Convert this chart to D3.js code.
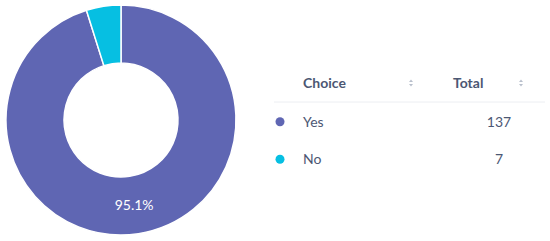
<!DOCTYPE html>
<html>
<head>
<meta charset="utf-8">
<script src="https://cdn.jsdelivr.net/npm/d3@7"></script>
<style>
  body { margin: 0; background: #fff; }
  svg { display: block; font-family: Lato, "Open Sans", sans-serif; }
</style>
</head>
<body>
<div id="vis"></div>
<script>
const choices = ["Yes", "No"];
const totals = [137, 7];
const colors = ["#5f66b3", "#06bfe2"];
const headers = ["Choice", "Total"];

const width = 550;
const height = 241;

const SVG = d3.select("#vis").append("svg")
  .attr("width", width).attr("height", height);

const data = choices.map((c, i) => ({ choice: c, total: totals[i], color: colors[i] }));
const sum = d3.sum(totals);

// donut
const pie = d3.pie().sort(null).value(d => d.total);
const arc = d3.arc().innerRadius(57).outerRadius(115);

const donut = SVG.append("g").attr("transform", "translate(121,120)");

donut.selectAll("path")
  .data(pie(data))
  .enter()
  .append("path")
  .attr("d", arc)
  .style("fill", d => d.data.color)
  .style("stroke", "white")
  .style("stroke-width", 1.5);

donut.selectAll("text")
  .data(pie(data).filter(d => d.data.total / sum > 0.1))
  .enter()
  .append("text")
  .attr("transform", d => `translate(${arc.centroid(d)})`)
  .attr("dy", "0.35em")
  .attr("text-anchor", "middle")
  .attr("font-size", "14px")
  .style("fill", "white")
  .text(d => (d.data.total / sum * 100).toFixed(1) + "%");

// table legend
const table = SVG.append("g");
const textColor = "#4c5773";

const colX = [303, 453];
table.selectAll("text.head")
  .data(headers)
  .enter()
  .append("text")
  .attr("class", "head")
  .attr("x", (d, i) => colX[i])
  .attr("y", 88)
  .attr("font-size", "14px")
  .attr("font-weight", "bold")
  .style("fill", textColor)
  .text(d => d);

// sort arrows
const sortX = [411, 521];
sortX.forEach(x => {
  table.append("path")
    .attr("d", `M${x - 2},${82} L${x + 2},${82} L${x},${79.5} Z`)
    .style("fill", "#b8bfcc");
  table.append("path")
    .attr("d", `M${x - 2},${84} L${x + 2},${84} L${x},${86.5} Z`)
    .style("fill", "#b8bfcc");
});

table.append("line")
  .attr("x1", 274).attr("x2", 545)
  .attr("y1", 102).attr("y2", 102)
  .style("stroke", "#eceef2")
  .style("stroke-width", 1);

const y = d3.scaleBand().domain(choices).range([103, 178]);

const rows = table.selectAll("g.row")
  .data(data)
  .enter()
  .append("g")
  .attr("class", "row")
  .attr("transform", d => `translate(0,${y(d.choice) + y.bandwidth() / 2})`);

rows.append("circle")
  .attr("cx", 280)
  .attr("cy", 0)
  .attr("r", 4.5)
  .style("fill", d => d.color);

rows.append("text")
  .attr("x", 303)
  .attr("dy", "0.35em")
  .attr("font-size", "14px")
  .style("fill", textColor)
  .text(d => d.choice);

rows.append("text")
  .attr("x", 499)
  .attr("dy", "0.35em")
  .attr("text-anchor", "middle")
  .attr("font-size", "14px")
  .style("fill", textColor)
  .text(d => d.total);
</script>
</body>
</html>
